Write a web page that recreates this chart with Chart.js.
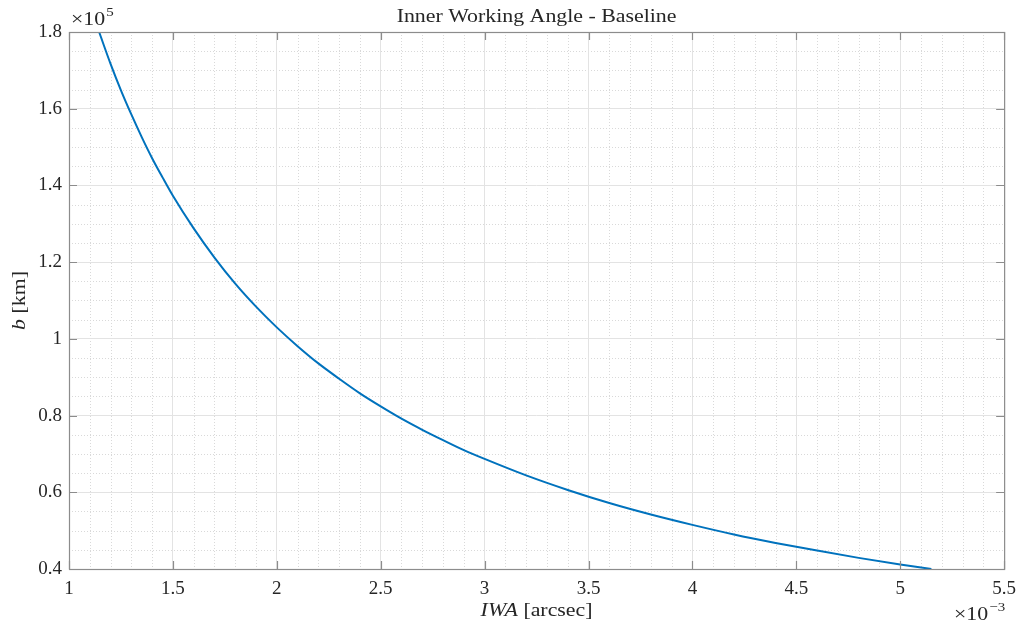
<!DOCTYPE html>
<html>
<head>
<meta charset="utf-8">
<title>Inner Working Angle - Baseline</title>
<script src="https://cdn.jsdelivr.net/npm/chart.js@4/dist/chart.umd.min.js"></script>
<style>
  html, body { margin: 0; padding: 0; background: #ffffff; }
  #wrap { width: 1025px; height: 630px; }
</style>
</head>
<body>
<div id="wrap"><canvas id="c" width="1025" height="630"></canvas></div>
<script>
// Inner working angle, in units of 1e-3 arcsec
const iwaMilliArcsec = [1.145, 1.2, 1.25, 1.3, 1.35, 1.4, 1.45, 1.5, 1.6, 1.7, 1.8, 1.9,
  2.0, 2.1, 2.2, 2.3, 2.4, 2.5, 2.6, 2.7, 2.8, 2.9, 3.0, 3.2, 3.4, 3.6, 3.8,
  4.0, 4.2, 4.4, 4.6, 4.8, 5.0, 5.15];
// Baseline b, in units of 1e5 km
const baselineE5km = [1.800, 1.717, 1.648, 1.585, 1.526, 1.471, 1.421, 1.373, 1.288, 1.212, 1.144, 1.084,
  1.030, 0.981, 0.936, 0.896, 0.858, 0.824, 0.792, 0.763, 0.736, 0.710, 0.687, 0.644, 0.606, 0.572, 0.542,
  0.515, 0.490, 0.468, 0.448, 0.429, 0.412, 0.400];

const xTicks = [1, 1.5, 2, 2.5, 3, 3.5, 4, 4.5, 5, 5.5];
const yTicks = [0.4, 0.6, 0.8, 1, 1.2, 1.4, 1.6, 1.8];

const titleText = 'Inner Working Angle - Baseline';
const xExponent = '\u22123';
const yExponent = '5';

const SERIF = '"Liberation Serif", "DejaVu Serif", serif';
const TEXT = '#262626';
const STRETCH = 1.15;   // widen the serif face a little

const points = iwaMilliArcsec.map((x, i) => ({ x: x, y: baselineE5km[i] }));

function frac(v) { return Number(v.toFixed(3)).toString(); }

// Minor dotted grid, drawn under the major grid
const minorGrid = {
  id: 'minorGrid',
  beforeDraw(chart) {
    const { ctx, chartArea: a, scales: { x, y } } = chart;
    ctx.save();
    ctx.strokeStyle = '#d9d9d9';
    ctx.lineWidth = 1;
    ctx.setLineDash([1, 2]);
    for (let k = 10; k <= 55; k++) {
      if (k % 5 === 0) continue;
      const px = Math.round(x.getPixelForValue(k / 10)) + 0.5;
      ctx.beginPath(); ctx.moveTo(px, a.top); ctx.lineTo(px, a.bottom); ctx.stroke();
    }
    for (let k = 8; k <= 36; k++) {
      if (k % 4 === 0) continue;
      const py = Math.round(y.getPixelForValue(k * 0.05)) + 0.5;
      ctx.beginPath(); ctx.moveTo(a.left, py); ctx.lineTo(a.right, py); ctx.stroke();
    }
    ctx.restore();
  }
};

// Axes box, inward tick marks and the text around the axes
const frame = {
  id: 'frame',
  afterDraw(chart) {
    const { ctx, chartArea: a, scales: { x, y } } = chart;
    ctx.save();
    ctx.strokeStyle = '#8c8c8c';
    ctx.lineWidth = 1.2;
    ctx.setLineDash([]);
    ctx.strokeRect(a.left + 0.5, a.top + 0.5, a.right - a.left, a.bottom - a.top);
    const tl = 8;
    ctx.beginPath();
    xTicks.forEach(v => {
      const px = Math.round(x.getPixelForValue(v)) + 0.5;
      ctx.moveTo(px, a.bottom); ctx.lineTo(px, a.bottom - tl);
      ctx.moveTo(px, a.top); ctx.lineTo(px, a.top + tl);
    });
    yTicks.forEach(v => {
      const py = Math.round(y.getPixelForValue(v)) + 0.5;
      ctx.moveTo(a.left, py); ctx.lineTo(a.left + tl, py);
      ctx.moveTo(a.right, py); ctx.lineTo(a.right - tl, py);
    });
    ctx.stroke();

    ctx.fillStyle = TEXT;
    ctx.textBaseline = 'alphabetic';
    ctx.textAlign = 'left';

    // widened text runs; align: 0 = left, 0.5 = centre, 1 = right
    function runs(parts, ax, ay, align) {
      let total = 0;
      parts.forEach(p => { ctx.font = p.f; total += ctx.measureText(p.t).width * STRETCH; });
      let px = ax - total * align;
      parts.forEach(p => {
        ctx.font = p.f;
        ctx.save();
        ctx.translate(px, ay + (p.dy || 0));
        ctx.scale(STRETCH, 1);
        ctx.fillText(p.t, 0, 0);
        ctx.restore();
        px += ctx.measureText(p.t).width * STRETCH + (p.gap || 0);
      });
    }

    const R = '19px ' + SERIF, I = 'italic 19px ' + SERIF, S = '13px ' + SERIF;

    // title
    runs([{ t: titleText, f: R }], (a.left + a.right) / 2, 22, 0.5);

    // x axis title
    runs([{ t: 'IWA', f: I }, { t: ' [arcsec]', f: R }], (a.left + a.right) / 2, 616, 0.5);

    // y axis title
    ctx.save();
    ctx.translate(25, (a.top + a.bottom) / 2);
    ctx.rotate(-Math.PI / 2);
    runs([{ t: 'b', f: I }, { t: ' [km]', f: R }], 0, 0, 0.5);
    ctx.restore();

    // exponent labels
    runs([{ t: '\u00d710', f: R, gap: 1 }, { t: yExponent, f: S, dy: -9 }], a.left + 2, 25, 0);
    runs([{ t: '\u00d710', f: R, gap: 1 }, { t: xExponent, f: S, dy: -9 }], a.right, 620, 1);

    ctx.restore();
  }
};

new Chart(document.getElementById('c'), {
  type: 'scatter',
  data: {
    datasets: [{
      data: points,
      showLine: true,
      borderColor: '#0072BD',
      borderWidth: 2,
      pointRadius: 0,
      tension: 0.35,
      cubicInterpolationMode: 'monotone',
      fill: false
    }]
  },
  options: {
    responsive: false,
    devicePixelRatio: 1,
    animation: false,
    events: [],
    layout: { padding: { left: 0, right: 18, top: 32, bottom: 0 } },
    plugins: { legend: { display: false }, tooltip: { enabled: false }, title: { display: false } },
    scales: {
      x: {
        type: 'linear',
        min: 1, max: 5.5,
        afterBuildTicks: s => { s.ticks = xTicks.map(v => ({ value: v })); },
        afterFit: s => { s.height = 61; },
        grid: { color: '#e3e3e3', lineWidth: 1, drawTicks: false },
        border: { display: false },
        ticks: { padding: 9, color: TEXT, font: { family: SERIF, size: 19 }, maxRotation: 0, callback: v => frac(v) }
      },
      y: {
        type: 'linear',
        min: 0.4, max: 1.8,
        afterBuildTicks: s => { s.ticks = yTicks.map(v => ({ value: v })); },
        afterFit: s => { s.width = 69; },
        grid: { color: '#e3e3e3', lineWidth: 1, drawTicks: false },
        border: { display: false },
        ticks: { padding: 7, color: TEXT, font: { family: SERIF, size: 19 }, callback: v => frac(v) }
      }
    }
  },
  plugins: [minorGrid, frame]
});
</script>
</body>
</html>
